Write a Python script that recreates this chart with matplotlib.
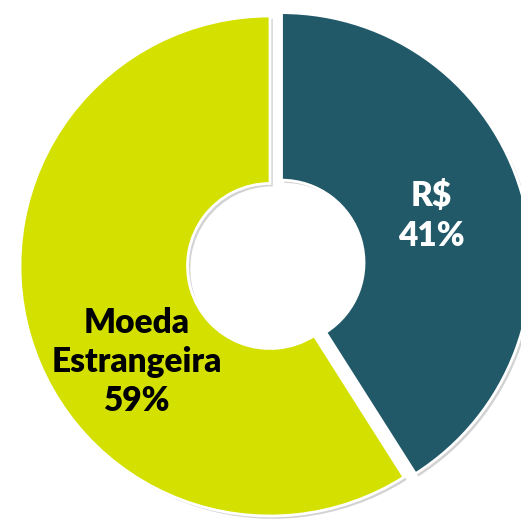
import matplotlib.pyplot as plt
import matplotlib.patheffects as pe

# --- data ---
labels = ["R$", "Moeda\nEstrangeira"]
shares = [41, 59]
colors = ["#215968", "#d3e000"]
text_colors = ["white", "black"]
explode = [0.048, 0.0]

fig = plt.figure(figsize=(5.21, 5.21), dpi=100)
ax = fig.add_axes([0, 0, 1, 1])

wedges, _ = ax.pie(shares, colors=colors, explode=explode, startangle=90,
                   counterclock=False, radius=1.0,
                   wedgeprops=dict(width=0.67, edgecolor="white", linewidth=2))

for w in wedges:
    w.set_path_effects([pe.SimplePatchShadow(offset=(2, -2), shadow_rgbFace="gray", alpha=0.35),
                        pe.Normal()])

# label positions
label_pos = [(0.645, 0.2), (-0.532, -0.384)]
for lab, s, (x, y), c in zip(labels, shares, label_pos, text_colors):
    ax.text(x, y, f"{lab}\n{s}%", ha="center", va="center", color=c,
            fontsize=24, fontweight="heavy", family="Lato", linespacing=1.28)

# pixel mapping: centre at (270, 266), radius 250 px
ax.set_xlim(-270 / 250, (521 - 270) / 250)
ax.set_ylim(-(521 - 266) / 250, 266 / 250)
ax.set_aspect("auto")
ax.axis("off")

fig.savefig("out.png", dpi=100)
